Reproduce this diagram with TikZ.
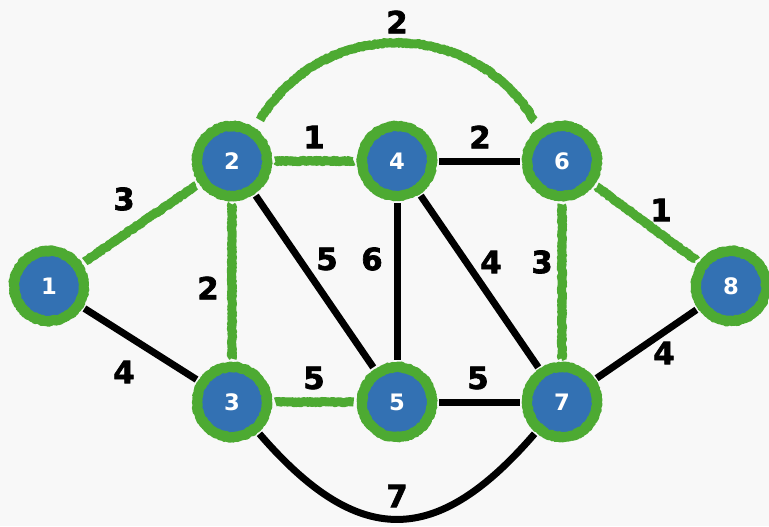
\documentclass[tikz,border=0pt]{standalone}
\usepackage{fontspec}
\setmainfont{DejaVu Sans}
\newfontfamily\wtfont[FakeBold=2.2]{DejaVu Sans Bold}
\usetikzlibrary{decorations.pathmorphing,calc}
\definecolor{bg}{HTML}{F8F8F8}
\definecolor{nblue}{HTML}{3371B3}
\definecolor{ngreen}{HTML}{4DAA32}
\begin{document}
\begin{tikzpicture}[x=0.75pt,y=-0.75pt,
  vtx/.style={circle, minimum size=52.5pt, inner sep=0pt, fill=nblue, draw=ngreen,
    line width=7.5pt, line join=round, text=white, font=\fontsize{17}{17}\selectfont\bfseries,
    decorate, decoration={random steps, segment length=0.7pt, amplitude=0.6pt}},
  blk/.style={line width=5.25pt, black, shorten <=1.5pt, shorten >=1.5pt},
  grn/.style={line width=6.75pt, ngreen, line join=round,
    decorate, decoration={random steps, segment length=0.9pt, amplitude=0.55pt}},
  wt/.style={font=\fontsize{23}{23}\wtfont, text=black, inner sep=0pt}
]
\pgfmathsetseed{7}
\fill[bg] (0,0) rectangle (769,526);
\useasboundingbox (0,0) rectangle (769,526);

\node[vtx] (n1) at (49,286) {1};
\node[vtx] (n2) at (232,161) {2};
\node[vtx] (n3) at (232,402) {3};
\node[vtx] (n4) at (397,161) {4};
\node[vtx] (n5) at (397,402) {5};
\node[vtx] (n6) at (562,161) {6};
\node[vtx] (n7) at (562,402) {7};
\node[vtx] (n8) at (731,286) {8};

% black edges
\draw[blk] (n1) -- (n3);
\draw[blk] (n2) -- (n5);
\draw[blk] (n4) -- (n5);
\draw[blk] (n4) -- (n6);
\draw[blk] (n4) -- (n7);
\draw[blk] (n5) -- (n7);
\draw[blk] (n7) -- (n8);
\draw[blk] (n3) .. controls (358,548) and (436,548) .. (n7);

% green edges
\draw[grn] ($(n1)!32.5pt!(n2)$) -- ($(n2)!32.5pt!(n1)$);
\draw[grn] ($(n2)!32.5pt!(n4)$) -- ($(n4)!32.5pt!(n2)$);
\draw[grn] ($(n2)!32.5pt!(n3)$) -- ($(n3)!32.5pt!(n2)$);
\draw[grn] ($(n3)!32.5pt!(n5)$) -- ($(n5)!32.5pt!(n3)$);
\draw[grn] ($(n6)!32.5pt!(n7)$) -- ($(n7)!32.5pt!(n6)$);
\draw[grn] ($(n6)!32.5pt!(n8)$) -- ($(n8)!32.5pt!(n6)$);
\draw[grn] ($(n2)+(28,-41)$) .. controls (322,17) and (472,17) .. ($(n6)+(-28,-41)$);

% weights
\node[wt] (w26) at (397,22) {2};
\node[wt] (w12) at (124,199) {3};
\node[wt] (w24) at (314,137) {1};
\node[wt] (w46) at (480,137) {2};
\node[wt] (w68) at (661,210) {1};
\node[wt] (w23) at (208,288) {2};
\node[wt] (w25) at (327,259) {5};
\node[wt] (w45) at (372,259) {6};
\node[wt] (w47) at (491,262) {4};
\node[wt] (w67) at (542,262) {3};
\node[wt] (w13) at (124,372) {4};
\node[wt] (w35) at (314,378) {5};
\node[wt] (w57) at (478,378) {5};
\node[wt] (w78) at (664,353) {4};
\node[wt] (w37) at (397,496) {7};
\end{tikzpicture}
\end{document}
